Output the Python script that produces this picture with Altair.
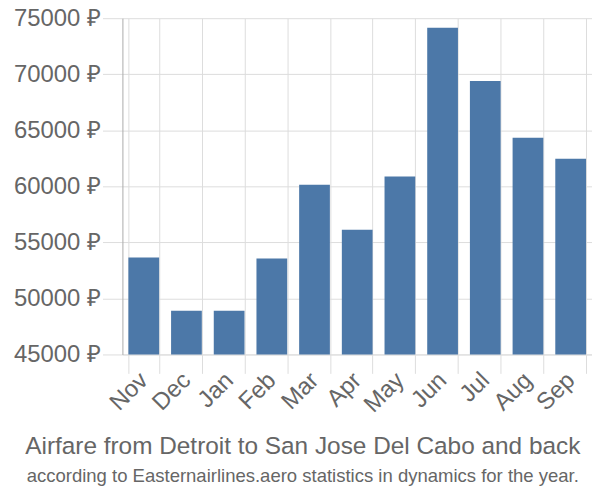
import altair as alt
import pandas as pd

months = ["Nov", "Dec", "Jan", "Feb", "Mar", "Apr", "May", "Jun", "Jul", "Aug", "Sep"]
prices = [53650, 48900, 48900, 53560, 60150, 56120, 60880, 74150, 69390, 64330, 62470]

df = pd.DataFrame({"month": months, "price": prices})

base_color = "#666666"

chart = alt.Chart(df).mark_bar(color="#4c78a8").encode(
    x=alt.X("month:N", sort=months, title=None,
            scale=alt.Scale(paddingInner=0.28, paddingOuter=0.14),
            axis=alt.Axis(tickBand="extent", labelAngle=-45, labelFontSize=24,
                          labelAlign="right", labelBaseline="middle",
                          labelColor=base_color, labelFont="Liberation Sans",
                          tickSize=19, tickColor="#dddddd", domainColor="#dddddd",
                          gridColor="#dddddd", grid=True, labelPadding=3)),
    y=alt.Y("price:Q", title=None,
            scale=alt.Scale(domain=[45000, 75000], zero=False, nice=False),
            axis=alt.Axis(values=[45000, 50000, 55000, 60000, 65000, 70000, 75000],
                          labelExpr="datum.value + ' ₽'", labelFontSize=24,
                          labelColor=base_color, labelFont="Liberation Sans",
                          tickSize=20, tickColor="#dddddd", domainColor="#aaaaaa",
                          gridColor="#dddddd", labelPadding=2)),
    y2=alt.datum(45000),
).properties(
    width=472, height=338,
    autosize=alt.AutoSizeParams(type="none"),
    padding={"left": 115, "top": 9, "right": 0, "bottom": 135},
    title=alt.TitleParams(
        "Airfare from Detroit to San Jose Del Cabo and back",
        subtitle="according to Easternairlines.aero statistics in dynamics for the year.",
        orient="bottom", anchor="middle", frame="bounds",
        fontSize=24.5, font="Liberation Sans", fontWeight="normal", color=base_color,
        subtitleFontSize=18.6, subtitleFont="Liberation Sans", subtitleColor=base_color,
        subtitlePadding=7, offset=19,
    ),
).configure_view(stroke=None)

chart.save("out.html", embed_options={"renderer": "svg", "actions": False})
